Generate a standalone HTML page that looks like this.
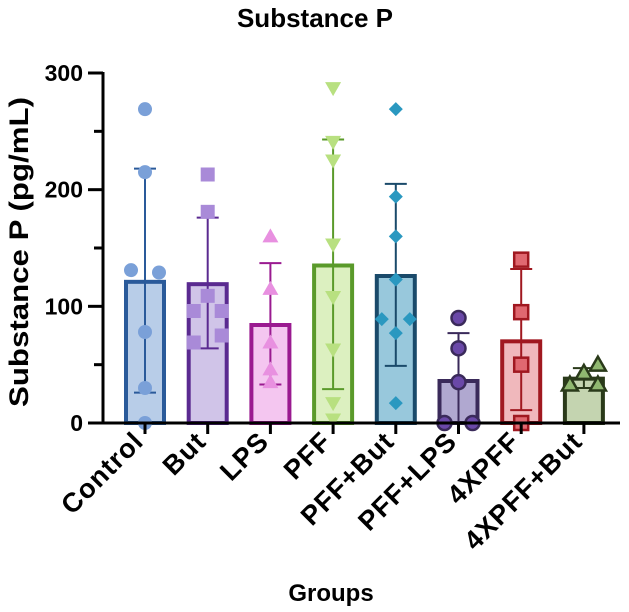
<!DOCTYPE html>
<html><head><meta charset="utf-8">
<style>
body{margin:0;background:#fff;}
svg{display:block;font-family:"Liberation Sans",Arial,sans-serif;font-weight:bold;}
</style></head>
<body>
<svg id="chart" width="629" height="612" viewBox="0 0 629 612" xmlns="http://www.w3.org/2000/svg">
<text x="315" y="27" font-size="26" text-anchor="middle">Substance P</text>
<text transform="translate(28,252) rotate(-90)" font-size="27" text-anchor="middle" textLength="310" lengthAdjust="spacingAndGlyphs">Substance P (pg/mL)</text>
<text x="331" y="601" font-size="24" text-anchor="middle">Groups</text>
<g id="plot"></g>
</svg>
<script>
const categories = ["Control","But","LPS","PFF","PFF+But","PFF+LPS","4XPFF","4XPFF+But"];
const means = [121,119,84,135,126,36,70,38];
const sdHigh = [218,176,137,243,205,77,132,47];
const sdLow = [26,64,33,29,49,0,11,30];
const points = [
 [269,215,131,129,78,30,0],
 [213,181,109,96,96,75,69],
 [160,115,69,46,35],
 [287,241,225,153,108,63,17,3],
 [269,194,160,123,89,89,77,17],
 [90,64,35,0,0],
 [140,95,50,0],
 [50,43,33,33]
];
const jitter = [
 [0,0,-1,1,0,0,0],
 [0,0,0,-1,1,1,-1],
 [0,0,0,0,0],
 [0,0,0,0,0,0,0,0],
 [0,0,0,0,-1,1,0,0],
 [0,0,0,-1,1],
 [0,0,0,0],
 [1,0,-1,1]
];
const yTicks = [0,100,200,300];
const edge = ["#2a5a9a","#5a2a90","#9a1a90","#5a9a2a","#1a4a6a","#3a2a5a","#a01820","#2a3a1a"];
const fill = ["#b8cde8","#d0c4e8","#f4c6f0","#dcf0c0","#98c8dc","#b0a8d0","#f0b8bc","#c4d4b0"];
const ptc = ["#7aa0d8","#a98ad8","#e890e0","#b8e080","#2a98c0","#6a48a8","#e06870","#90b870"];
const ptStroke = [null,null,null,null,null,"#3a2a5a","#a01820","#2a3a1a"];
const shapes = ["circle","square","triangle","tridown","diamond","circle","square","triangle"];

const x0=103, x1=620, yBase=423, yTop=73, yMax=300;
const y = v => yBase - (v/yMax)*(yBase-yTop);
const xc = i => 145 + i*62.7;
const NS="http://www.w3.org/2000/svg";
const g=document.getElementById('plot');
function mk(tag,attrs){const e=document.createElementNS(NS,tag);for(const k in attrs)e.setAttribute(k,attrs[k]);g.appendChild(e);return e;}

categories.forEach((c,i)=>{
  const bw=38, cx=xc(i);
  const b=mk('rect',{x:cx-bw/2,y:y(means[i]),width:bw,height:yBase-y(means[i]),fill:fill[i],stroke:edge[i],'stroke-width':4});
  
  
  const l=mk('line',{x1:cx,x2:cx,y1:y(sdHigh[i]),y2:y(sdLow[i]),stroke:edge[i],'stroke-width':2});
  
  
  [sdHigh[i],sdLow[i]].forEach(v=>{
    if(v<=0)return;
    const cap=mk('line',{x1:cx-11,x2:cx+11,y1:y(v),y2:y(v),stroke:edge[i],'stroke-width':2});
    
    
  });
  points[i].forEach((v,j)=>{
    const px=cx+jitter[i][j]*14, py=y(v), r=7;
    let e;
    const st=ptStroke[i]?{stroke:ptStroke[i],'stroke-width':2.5}:{};
    if(shapes[i]=="circle") e=mk('circle',Object.assign({cx:px,cy:py,r:r,fill:ptc[i]},st));
    else if(shapes[i]=="square") e=mk('rect',Object.assign({x:px-r,y:py-r,width:2*r,height:2*r,fill:ptc[i]},st));
    else if(shapes[i]=="triangle") e=mk('polygon',Object.assign({points:`${px},${py-8} ${px-8},${py+6} ${px+8},${py+6}`,fill:ptc[i]},st));
    else if(shapes[i]=="tridown") e=mk('polygon',Object.assign({points:`${px-8},${py-6} ${px+8},${py-6} ${px},${py+8}`,fill:ptc[i]},st));
    else e=mk('polygon',Object.assign({points:`${px},${py-7} ${px+7},${py} ${px},${py+7} ${px-7},${py}`,fill:ptc[i]},st));
    
    
  });
  const t=mk('line',{x1:cx,x2:cx,y1:yBase,y2:yBase+11,stroke:'#000','stroke-width':3});
  
  
  const tx=mk('text',{transform:`translate(${cx},${yBase+20}) rotate(-45)`,'font-size':27,'letter-spacing':1,'text-anchor':'end'});
  tx.textContent=c;
  
  
});
const ax=mk('line',{x1:x0,x2:x1,y1:yBase,y2:yBase,stroke:'#000','stroke-width':3});


const ay=mk('line',{x1:x0,x2:x0,y1:yTop-1,y2:yBase+1.5,stroke:'#000','stroke-width':3});


yTicks.forEach(v=>{
  const t=mk('line',{x1:x0-15,x2:x0,y1:y(v),y2:y(v),stroke:'#000','stroke-width':3});
  
  
  const tx=mk('text',{x:x0-20,y:y(v)+8,'font-size':23,'text-anchor':'end'});
  tx.textContent=v;
  
  
});
for(let k=0;k<yTicks.length-1;k++){
  const v=(yTicks[k]+yTicks[k+1])/2;
  const t=mk('line',{x1:x0-9,x2:x0,y1:y(v),y2:y(v),stroke:'#000','stroke-width':3});
  
  
}
</script>
</body></html>
